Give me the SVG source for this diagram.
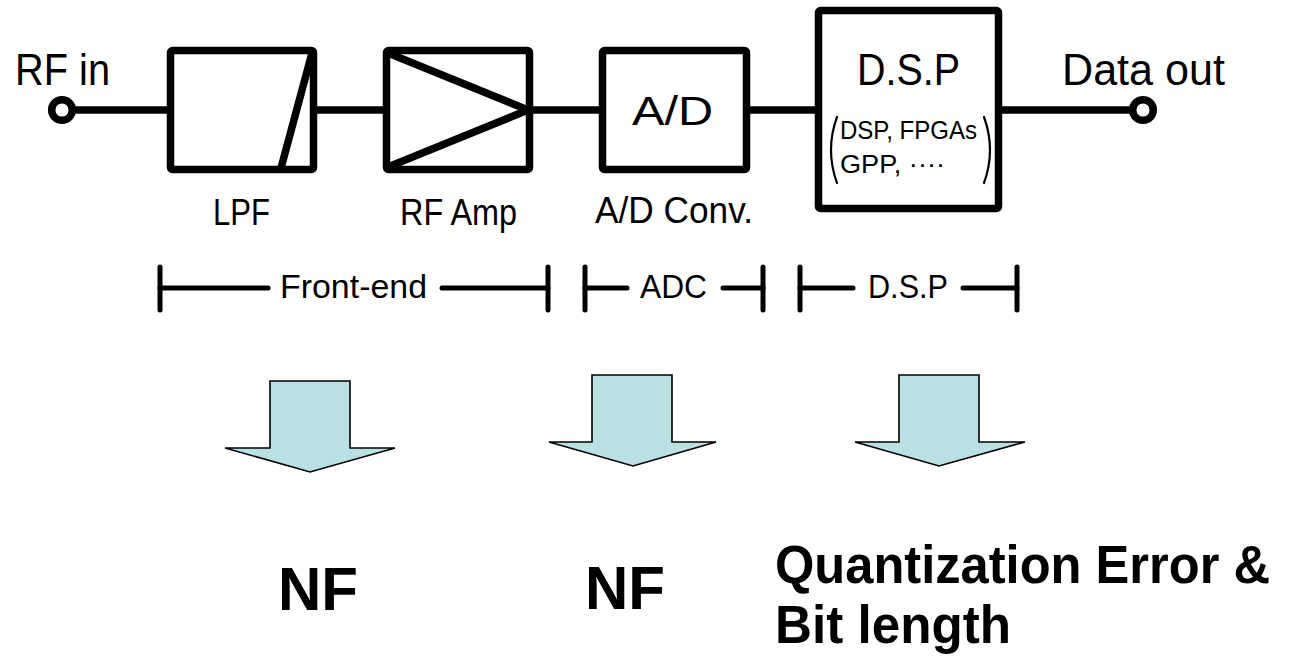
<svg xmlns="http://www.w3.org/2000/svg" width="1295" height="656" viewBox="0 0 1295 656">
<style>
.t{font-family:"Liberation Sans",Arial,sans-serif;fill:#000}
.b{font-family:"Liberation Sans",Arial,sans-serif;font-weight:bold;fill:#000}
.box{fill:#fff;stroke:#000;stroke-width:7.5;stroke-linejoin:round}
.w{fill:none;stroke:#000;stroke-width:7.5;stroke-linecap:butt}
.sym{fill:none;stroke:#000;stroke-width:7.5;stroke-linecap:round}
.port{fill:#fff;stroke:#000;stroke-width:7.5}
.br{fill:none;stroke:#000;stroke-width:5;stroke-linecap:round}
.par{fill:none;stroke:#000;stroke-width:2.2;stroke-linecap:round}
.arr{fill:#BBE0E3;stroke:#000;stroke-width:1.6;stroke-linejoin:miter}
</style>
<g id="connectors">
<line class="w" x1="72" y1="110" x2="170" y2="110"/>
<line class="w" x1="314" y1="110" x2="386" y2="110"/>
<line class="w" x1="530" y1="110" x2="602" y2="110"/>
<line class="w" x1="747" y1="110" x2="818" y2="110"/>
<line class="w" x1="999" y1="110" x2="1133" y2="110"/>
</g>
<g id="rf-in">
<circle class="port" cx="62" cy="110" r="10.3"/>
<text class="t" x="15" y="85" font-size="44" textLength="95" lengthAdjust="spacingAndGlyphs">RF in</text>
</g>
<g id="lpf">
<rect class="box" x="170.5" y="50.5" width="143" height="119" rx="2"/>
<line class="sym" x1="281" y1="168" x2="312" y2="53"/>
<text class="t" x="213" y="225" font-size="36" textLength="57" lengthAdjust="spacingAndGlyphs">LPF</text>
</g>
<g id="rf-amp">
<rect class="box" x="386.5" y="50.5" width="143" height="119" rx="2"/>
<polyline class="sym" points="388,53 528,110 388,167"/>
<text class="t" x="400" y="225" font-size="36" textLength="117" lengthAdjust="spacingAndGlyphs">RF Amp</text>
</g>
<g id="ad">
<rect class="box" x="602.5" y="50.5" width="144" height="119" rx="2"/>
<text class="t" x="632" y="125" font-size="40" textLength="81" lengthAdjust="spacingAndGlyphs">A/D</text>
<text class="t" x="595" y="223" font-size="36" textLength="158" lengthAdjust="spacingAndGlyphs">A/D Conv.</text>
</g>
<g id="dsp">
<rect class="box" x="818.5" y="10.5" width="180" height="198" rx="2"/>
<text class="t" x="857" y="85" font-size="44" textLength="103" lengthAdjust="spacingAndGlyphs">D.S.P</text>
<path class="par" d="M837 117 Q825 150 837 183"/>
<path class="par" d="M984 117 Q996 150 984 183"/>
<text class="t" x="840" y="139" font-size="26" textLength="137" lengthAdjust="spacingAndGlyphs">DSP, FPGAs</text>
<text class="t" x="840" y="173" font-size="26" textLength="105" lengthAdjust="spacingAndGlyphs">GPP, ····</text>
</g>
<g id="data-out">
<circle class="port" cx="1143" cy="110" r="10.3"/>
<text class="t" x="1062" y="85" font-size="44" textLength="163" lengthAdjust="spacingAndGlyphs">Data out</text>
</g>
<g id="bracket-frontend">
<line class="br" x1="160" y1="267" x2="160" y2="310"/>
<line class="br" x1="160" y1="288" x2="268" y2="288"/>
<text class="t" x="280" y="298" font-size="34" textLength="147" lengthAdjust="spacingAndGlyphs">Front-end</text>
<line class="br" x1="442" y1="288" x2="548" y2="288"/>
<line class="br" x1="548" y1="267" x2="548" y2="310"/>
</g>
<g id="bracket-adc">
<line class="br" x1="585" y1="267" x2="585" y2="310"/>
<line class="br" x1="585" y1="288" x2="627" y2="288"/>
<text class="t" x="640" y="298" font-size="34" textLength="67" lengthAdjust="spacingAndGlyphs">ADC</text>
<line class="br" x1="723" y1="288" x2="763" y2="288"/>
<line class="br" x1="763" y1="267" x2="763" y2="310"/>
</g>
<g id="bracket-dsp">
<line class="br" x1="800" y1="267" x2="800" y2="310"/>
<line class="br" x1="800" y1="288" x2="853" y2="288"/>
<text class="t" x="868" y="298" font-size="34" textLength="80" lengthAdjust="spacingAndGlyphs">D.S.P</text>
<line class="br" x1="963" y1="288" x2="1017" y2="288"/>
<line class="br" x1="1017" y1="267" x2="1017" y2="310"/>
</g>
<g id="arrow-frontend">
<polygon class="arr" points="270,381 350,381 350,448 395,448 310,472 225,448 270,448"/>
</g>
<g id="arrow-adc">
<polygon class="arr" points="592,375 672,375 672,442 716,442 633,466 549,442 592,442"/>
</g>
<g id="arrow-dsp">
<polygon class="arr" points="899,375 979,375 979,442 1025,442 939,466 855,442 899,442"/>
</g>
<g id="result-frontend">
<text class="b" x="278" y="610" font-size="62" textLength="80" lengthAdjust="spacingAndGlyphs">NF</text>
</g>
<g id="result-adc">
<text class="b" x="585" y="609" font-size="62" textLength="80" lengthAdjust="spacingAndGlyphs">NF</text>
</g>
<g id="result-dsp">
<text class="b" x="775" y="583" font-size="53" textLength="495" lengthAdjust="spacingAndGlyphs">Quantization Error &amp;</text>
<text class="b" x="775" y="643" font-size="53" textLength="236" lengthAdjust="spacingAndGlyphs">Bit length</text>
</g>
</svg>
